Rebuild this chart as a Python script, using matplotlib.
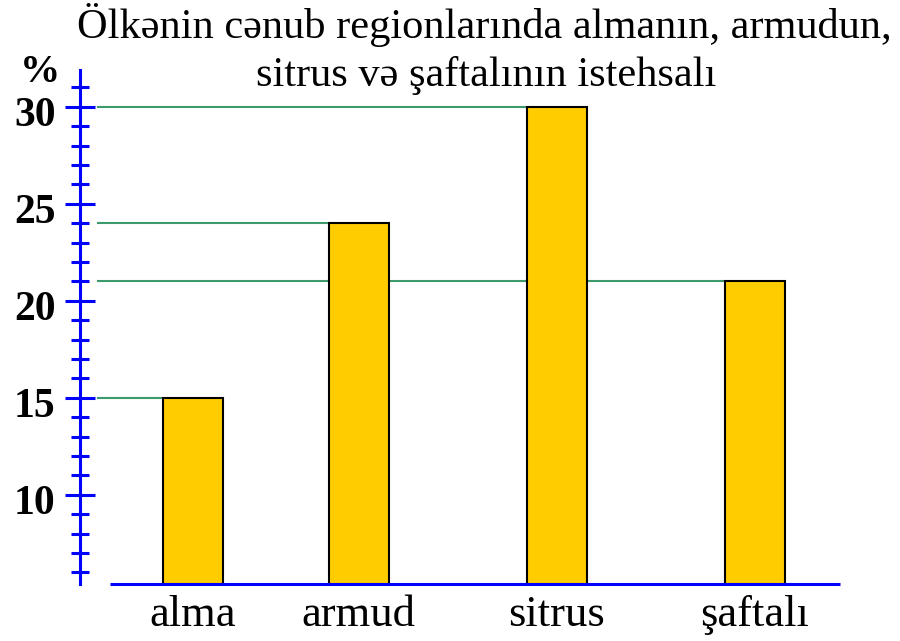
import matplotlib
matplotlib.use("Agg")
import matplotlib.pyplot as plt
from matplotlib.ticker import MultipleLocator
from matplotlib.transforms import ScaledTranslation

categories = ["alma", "armud", "sitrus", "şaftalı"]
values = [15, 24, 30, 21]
major_ticks = [10, 15, 20, 25, 30]
title_lines = ["Ölkənin cənub regionlarında almanın, armudun,", "sitrus və şaftalının istehsalı"]

# layout (x in units of 100 px from the y-axis)
xpos = [1.13, 2.785, 4.765, 6.745]
bar_w = 0.6

W, H = 900, 641
fig = plt.figure(figsize=(W / 100, H / 100), dpi=100)
ax_left, ax_right = 80, 840
ax_top, ax_bottom = 70, 584
ax = fig.add_axes([ax_left / W, 1 - ax_bottom / H, (ax_right - ax_left) / W, (ax_bottom - ax_top) / H])
ax.set_xlim(0, 7.6)
ax.set_ylim(5.4, 31.9)

plt.rcParams['font.family'] = ['Liberation Serif', 'DejaVu Serif']
serif = ['Liberation Serif', 'DejaVu Serif']

# green guide lines
for i, v in enumerate(values):
    ax.hlines(v, 0.17, xpos[i] - bar_w / 2, colors='#3d9a6c', lw=1.5, zorder=1)

ax.bar(xpos, values, width=bar_w, bottom=0, color='#FFCC00', edgecolor='black', lw=1.5, zorder=2)

for s in ['top', 'right', 'bottom']:
    ax.spines[s].set_visible(False)
ax.spines['left'].set_color('#0000FF')
ax.spines['left'].set_linewidth(2.2)
ax.spines['left'].set_zorder(3)

ax.hlines(5.4, 0.3, 7.6, colors='#0000FF', lw=2.2, zorder=3, clip_on=False)

ax.yaxis.set_minor_locator(MultipleLocator(1))
ax.set_yticks(major_ticks)
ax.set_yticklabels([str(t) for t in major_ticks], fontfamily=serif, fontweight='bold', fontsize=30)
ax.tick_params(axis='y', which='major', direction='inout', length=21, width=2.2, color='#0000FF', pad=7)
ax.tick_params(axis='y', which='minor', direction='inout', length=13, width=2.2, color='#0000FF')
for lab in ax.get_yticklabels():
    lab.set_transform(lab.get_transform() + ScaledTranslation(0, -5 / 100, fig.dpi_scale_trans))
ax.set_xticks(xpos)
ax.set_xticklabels(categories, fontfamily=serif, fontsize=32)
ax.tick_params(axis='x', length=0, pad=8)

fig.text(40 / W, 1 - 72 / H, "%", fontfamily=serif, fontweight='bold', fontsize=29, ha='center', va='center')
fig.text(484 / W, 1 - 38 / H, title_lines[0], fontfamily=serif, fontsize=30.5, ha='center', va='baseline')
fig.text(486 / W, 1 - 86 / H, title_lines[1], fontfamily=serif, fontsize=30.5, ha='center', va='baseline')

fig.savefig("out.png", dpi=100)
